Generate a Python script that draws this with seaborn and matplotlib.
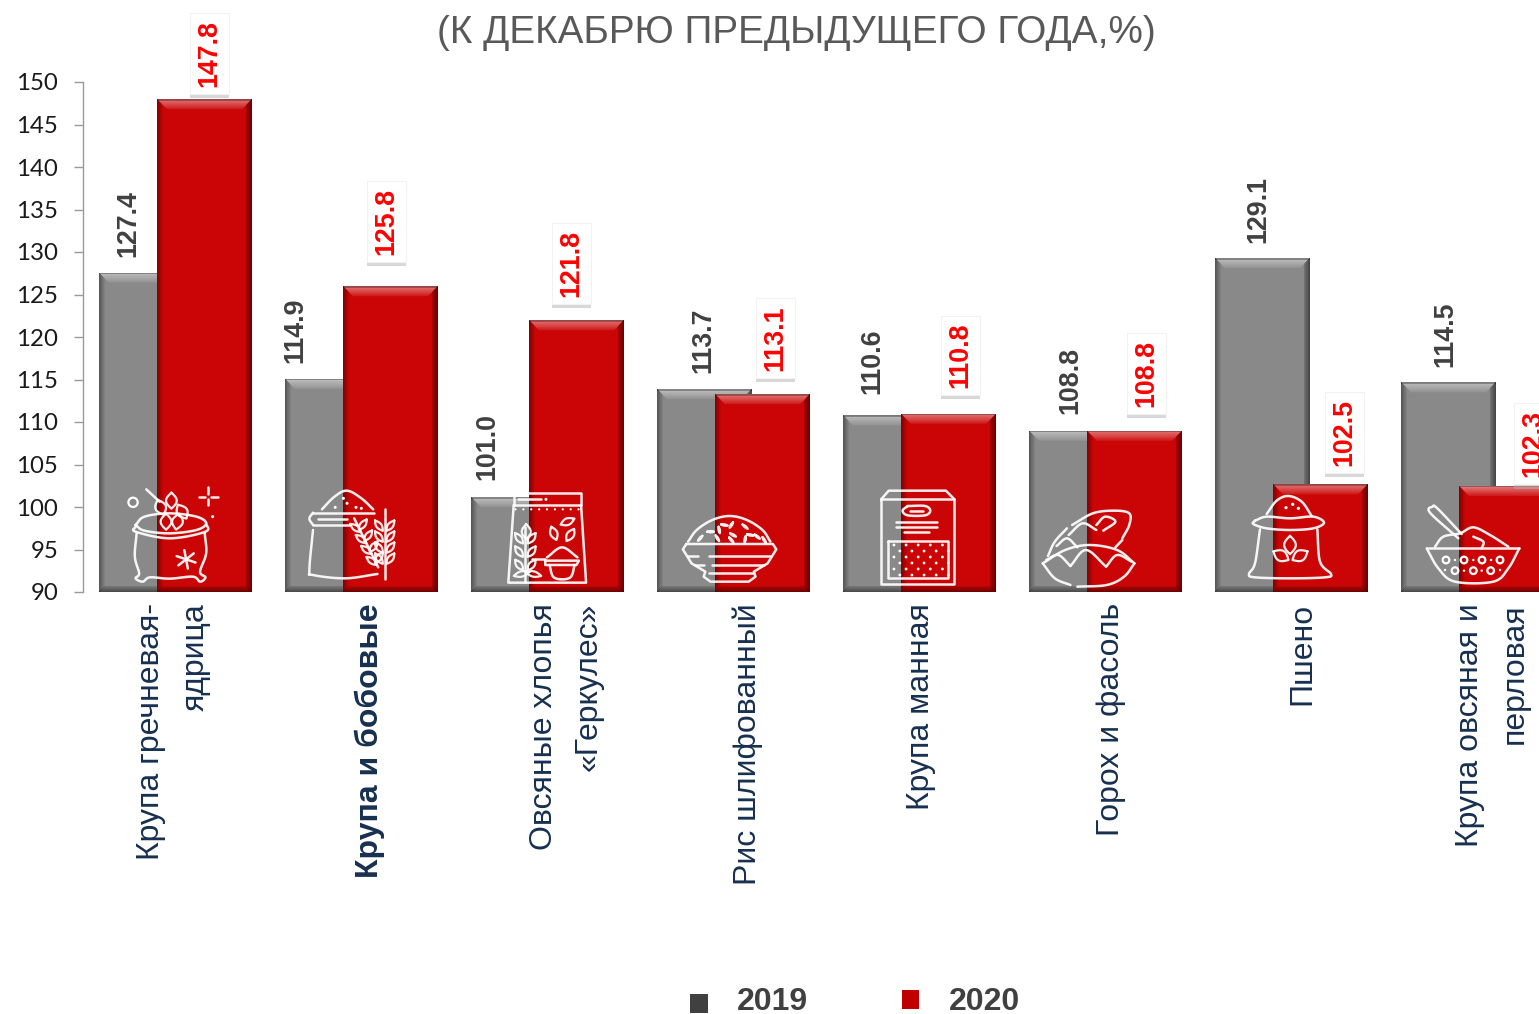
import numpy as np
import pandas as pd
import matplotlib
matplotlib.use("Agg")
import matplotlib.pyplot as plt
import seaborn as sns
from matplotlib.patches import Polygon, Rectangle, Patch, Circle
from matplotlib.lines import Line2D
from matplotlib.transforms import Affine2D, IdentityTransform
from matplotlib import patheffects as pe

# ---------- data ----------
categories = ["Крупа гречневая-\nядрица", "Крупа и бобовые", "Овсяные хлопья\n«Геркулес»",
              "Рис шлифованный", "Крупа манная", "Горох и фасоль", "Пшено",
              "Крупа овсяная и\nперловая"]
years = ["2019", "2020"]
values_2019 = [127.4, 114.9, 101.0, 113.7, 110.6, 108.8, 129.1, 114.5]
values_2020 = [147.8, 125.8, 121.8, 113.1, 110.8, 108.8, 102.5, 102.3]
y_ticks = list(range(90, 151, 5))
title_text = "(К ДЕКАБРЮ ПРЕДЫДУЩЕГО ГОДА,%)"

# ---------- layout ----------
W, H = 1539, 1014
GRAY, RED = "#898989", "#CB0505"
INK = "#17304F"
label_shift = [-2.5, 8.5, 18.5, 14.5, 1.5, 5.5, 10.5, 15]
gray_off = [(-18.5, 17), (-37.5, 17), (-31.5, 19), (-1.5, 18), (-18.5, 23), (-6.5, 18), (-4.5, 17), (-3.5, 17)]
red_off = [(5, 5), (-4, 24), (-5, 16), (13, 16), (12, 18), (12, 16), (24, 11), (27, 1)]

sns.set_theme(style="white")
plt.rcParams["font.family"] = ["Liberation Sans", "DejaVu Sans"]

fig = plt.figure(figsize=(W / 100, H / 100), dpi=100, facecolor="white")
ax = fig.add_axes([83 / W, (H - 592) / H, (W - 83) / W, (592 - 82) / H])

df = pd.DataFrame({
    "category": categories * 2,
    "year": [years[0]] * len(categories) + [years[1]] * len(categories),
    "value": values_2019 + values_2020,
})
sns.barplot(data=df, x="category", y="value", hue="year", hue_order=years,
            palette=[GRAY, RED], width=0.624, gap=-0.64, legend=False,
            saturation=1, linewidth=0, ax=ax)

ax.set_ylim(90, 150)
ax.set_xlim((83 - 175.5) / 186, (W - 175.5) / 186)
ax.set_yticks(y_ticks)
ax.set_xlabel("")
ax.set_ylabel("")
for s in ("top", "right", "bottom"):
    ax.spines[s].set_visible(False)
ax.spines["left"].set_color("#9A9A9A")
ax.spines["left"].set_linewidth(1.0)
ax.tick_params(axis="y", length=6.5, width=1, color="#9A9A9A", pad=11.5,
               left=True, labelsize=17.3, labelcolor="#1A1A1A")
for t in ax.get_yticklabels():
    t.set_fontfamily("Lato")
ax.tick_params(axis="x", length=0, pad=8)
ax.set_xticks(range(len(categories)))
ax.set_xticklabels(categories, rotation=90, fontsize=23, color=INK, va="top", ha="center",
                   multialignment="right", linespacing=1.65)
for i, t in enumerate(ax.get_xticklabels()):
    t.set_transform(t.get_transform() + Affine2D().translate(label_shift[i], 0))
    if categories[i] == "Крупа и бобовые":
        t.set_fontweight("bold")

# ---------- bevelled bars ----------
IDT = IdentityTransform()
ymin = ax.get_ylim()[0]


def bevel(bar, z):
    x = bar.get_x()
    w = bar.get_width()
    h = bar.get_height()
    (x0, y0), (x1, y1) = ax.transData.transform([(x, ymin), (x + w, h)])
    y1 += 1.5
    b = 10
    bar.set_zorder(z)
    ax.add_patch(Rectangle((x0, y1 - 2), x1 - x0, 2, fc=bar.get_facecolor(), ec="none", transform=IDT, zorder=z))
    for i in range(b):
        a = 0.42 * (1 - i / b) + 0.06
        ax.add_patch(Polygon([(x0 + i, y1 - i), (x1 - i, y1 - i), (x1 - i - 1, y1 - i - 1), (x0 + i + 1, y1 - i - 1)],
                             closed=True, fc="white", ec="none", alpha=a, transform=IDT, zorder=z + .01))
    for i in range(6):
        a = 0.36 * (1 - i / 6)
        ax.add_patch(Rectangle((x0 + i, y0 + i), 1, y1 - y0 - 2 * i, fc="black", ec="none", alpha=a,
                               transform=IDT, zorder=z + .02))
        ax.add_patch(Rectangle((x1 - i - 1, y0 + i), 1, y1 - y0 - 2 * i, fc="black", ec="none", alpha=a + .12,
                               transform=IDT, zorder=z + .02))
        ax.add_patch(Rectangle((x0 + i, y0 + i), x1 - x0 - 2 * i, 1, fc="black", ec="none", alpha=a + .08,
                               transform=IDT, zorder=z + .02))
    ax.add_patch(Rectangle((x0, y1 - 1.5), x1 - x0, 1.5, fc="black", ec="none", alpha=.3, transform=IDT, zorder=z + .03))


for bar in ax.containers[0]:
    bevel(bar, 1.2)
for bar in ax.containers[1]:
    bevel(bar, 1.5)

# ---------- value labels ----------
for i, bar in enumerate(ax.containers[0]):
    cx = bar.get_x() + bar.get_width() / 2
    dx, dy = gray_off[i]
    ax.annotate(f"{values_2019[i]:.1f}", (cx, bar.get_height()), xytext=(dx, dy), textcoords="offset pixels",
                rotation=90, ha="center", va="bottom", fontsize=19.3, fontweight="bold", color="#404040",
                annotation_clip=False, zorder=4)
for i, bar in enumerate(ax.containers[1]):
    cx = bar.get_x() + bar.get_width() / 2
    dx, dy = red_off[i]
    a = ax.annotate(f"{values_2020[i]:.1f}", (cx, bar.get_height()), xytext=(dx, dy + 9), textcoords="offset pixels",
                    rotation=90, ha="center", va="bottom", fontsize=19.3, fontweight="bold", color="#FF0000",
                    annotation_clip=False, zorder=4,
                    bbox=dict(boxstyle="square,pad=0.26", fc="white", ec="#F2F2F2", lw=0.8))
    a.get_bbox_patch().set_path_effects([
        pe.SimplePatchShadow(offset=(0, -3), shadow_rgbFace="#B0B0B0", alpha=.5), pe.Normal()])

# ---------- line icons (decoration, drawn in picture pixels) ----------
PIX = Affine2D().scale(1, -1).translate(0, H)
ICON_Z = 3


class Icon:
    def __init__(self, ox, oy, kx, ky):
        self.ox, self.oy, self.kx, self.ky = ox, oy, kx, ky

    def p(self, pts):
        a = np.asarray(pts, float)
        return np.c_[self.ox + a[:, 0] / self.kx, self.oy + a[:, 1] / self.ky]

    def line(self, pts, smooth=False, lw=1.8):
        q = self.p(pts)
        if smooth and len(q) > 2:
            e = np.r_[[2 * q[0] - q[1]], q, [2 * q[-1] - q[-2]]]
            out = []
            for j in range(1, len(e) - 2):
                for t in np.linspace(0, 1, 10, endpoint=False):
                    out.append(.5 * (2 * e[j] + (e[j + 1] - e[j - 1]) * t
                                     + (2 * e[j - 1] - 5 * e[j] + 4 * e[j + 1] - e[j + 2]) * t ** 2
                                     + (3 * e[j] - e[j - 1] - 3 * e[j + 1] + e[j + 2]) * t ** 3))
            out.append(q[-1])
            q = np.array(out)
        fig.add_artist(Line2D(q[:, 0], q[:, 1], color="white", lw=lw, alpha=.92, transform=PIX, zorder=ICON_Z,
                              solid_capstyle="round", solid_joinstyle="round"))

    def ring(self, c, r, lw=1.6):
        q = self.p([c])[0]
        fig.add_artist(Circle(q, r / self.kx, fc="none", ec="white", lw=lw, transform=PIX, zorder=ICON_Z))

    def dots(self, pts, r=1.5):
        for q in self.p(pts):
            fig.add_artist(Circle(q, r, fc="white", ec="none", transform=PIX, zorder=ICON_Z))

    def leaf(self, c, ln, wd, ang):
        t = np.linspace(0, 1, 21)
        u = (t - .5) * ln
        v = wd / 2 * np.sin(np.pi * t)
        ca, sa = np.cos(np.radians(ang)), np.sin(np.radians(ang))
        xs = np.r_[u, u[::-1]]
        ys = np.r_[v, -v[::-1]]
        self.line(np.c_[c[0] + xs * ca - ys * sa, c[1] + xs * sa + ys * ca], lw=1.6)


# 1: sack with grain
k = Icon(80, 470, 2.79, 3)
k.line([(155, 165), (180, 140), (250, 130), (325, 140), (352, 160), (325, 180), (250, 190), (180, 182), (155, 165)], True)
k.line([(155, 170), (155, 185), (250, 205), (350, 185), (352, 160)], True)
k.line([(158, 190), (153, 260), (165, 310), (155, 325), (175, 335), (195, 322), (250, 326), (315, 320), (335, 335), (350, 322), (335, 305), (352, 250), (348, 190)], True)
for c, a in [((225, 112), 70), ((255, 92), 90), ((285, 125), 60), ((240, 155), 90), ((272, 155), 100)]:
    k.leaf(c, 48, 30, a)
k.line([(185, 58), (222, 95)])
for a in (20, 80, 140):
    d = 28 * np.array([np.cos(np.radians(a)), np.sin(np.radians(a))])
    k.line([(296 - d[0], 268 - d[1]), (296 + d[0], 268 + d[1])])
k.ring((148, 97), 13)
k.line([(358, 52), (358, 72)])
k.line([(358, 88), (358, 106)])
k.line([(332, 80), (350, 80)])
k.line([(366, 80), (384, 80)])
k.dots([(370, 140)])

# 2: sack with wheat
k = Icon(80, 470, 2.79, 3)
k.line([(675, 118), (710, 80), (745, 62), (785, 85), (818, 118)], True)
k.line([(650, 128), (820, 128)])
k.line([(650, 165), (750, 165)])
k.line([(650, 128), (640, 146), (650, 165)], True)
k.line([(665, 147), (745, 147)])
k.dots([(712, 112), (745, 100), (770, 112), (735, 85), (785, 115)])
k.line([(650, 180), (640, 300), (650, 315), (740, 325), (830, 312)], True)
k.line([(765, 145), (832, 292)])
for s in (0, 1, 2, 3):
    y = 170 + s * 33
    x = 775 + s * 15
    k.leaf((x - 6, y + 4), 38, 15, 40)
    k.leaf((x + 14, y - 6), 38, 15, 125)
k.line([(850, 118), (850, 328)])
for s in (0, 1, 2, 3):
    y = 155 + s * 33
    k.leaf((834, y + 12), 38, 15, 55)
    k.leaf((866, y + 12), 38, 15, 125)

# 3: bag of oats
k = Icon(80, 470, 2.79, 3)
k.line([(1212, 105), (1212, 70), (1398, 70), (1398, 105), (1212, 105)])
k.line([(1222, 88), (1285, 88)])
k.dots([(1300, 88)])
k.dots([(x, 118) for x in range(1215, 1400, 22)], 1.1)
k.line([(1210, 105), (1195, 338), (1412, 338), (1398, 105)])
k.line([(1242, 170), (1242, 335)])
for y in (205, 245, 285):
    k.leaf((1225, y), 38, 16, 55)
    k.leaf((1260, y), 38, 16, 125)
k.leaf((1245, 185), 45, 25, 90)
k.leaf((1232, 312), 45, 16, 165)
k.leaf((1265, 312), 45, 16, 15)
k.line([(1303, 262), (1345, 232), (1388, 262)], True)
k.line([(1298, 272), (1392, 272), (1385, 285), (1298, 285), (1298, 272)])
k.line([(1310, 285), (1320, 320), (1345, 328), (1370, 320), (1380, 285)], True)
k.line([(1262, 268), (1298, 268)])
k.leaf((1360, 155), 42, 20, 155)
k.leaf((1322, 190), 42, 20, 70)
k.leaf((1368, 195), 42, 20, 120)

# 4: bowl of rice
k = Icon(650, 470, 2.89, 3)
k.line([(105, 222), (355, 222), (365, 238), (340, 280), (300, 305), (305, 320), (285, 335), (175, 335), (155, 320), (160, 305), (120, 280), (95, 238), (105, 222)])
k.line([(110, 258), (140, 258)])
k.line([(170, 258), (350, 258)])
k.line([(130, 285), (155, 285)])
k.line([(180, 285), (330, 285)])
k.line([(170, 308), (300, 308)])
k.line([(110, 215), (135, 180), (180, 150), (230, 138), (280, 150), (325, 180), (348, 215)], True)
for c, a in [((200, 180), 80), ((235, 165), 120), ((215, 165), 10), ((275, 170), 40), ((240, 195), 30), ((290, 195), 10),
             ((175, 185), 0), ((145, 205), 130), ((195, 205), 60), ((235, 210), 50), ((275, 208), 100), ((310, 200), 40), ((330, 210), 60)]:
    k.leaf(c, 20, 4, a)

# 5: box of semolina
k = Icon(650, 470, 2.89, 3)
k.line([(668, 88), (880, 88), (880, 342), (668, 342), (668, 88)])
k.line([(668, 88), (690, 62), (855, 62), (880, 88)])
k.line([(745, 108), (795, 108), (810, 122), (795, 136), (745, 136), (730, 122), (745, 108)], True)
k.line([(750, 122), (790, 122)])
k.line([(710, 155), (830, 155)])
k.line([(710, 170), (830, 170)])
k.line([(735, 185), (805, 185)])
k.line([(688, 212), (862, 212), (862, 325), (688, 325), (688, 212)])
k.dots([(x + (17 if j % 2 else 0), y) for j, y in enumerate(range(225, 320, 18)) for x in range(705, 850, 35)], 1.4)

# 6: beans
k = Icon(650, 470, 2.89, 3)
k.line([(1135, 280), (1170, 325), (1215, 345)], True)
k.line([(1235, 350), (1320, 345), (1370, 320), (1400, 280)], True)
k.line([(1135, 280), (1200, 240), (1270, 225), (1350, 240), (1400, 280)], True)
k.line([(1145, 270), (1180, 255), (1215, 288)], True)
k.line([(1215, 288), (1260, 240), (1318, 290)], True)
k.line([(1318, 290), (1350, 255), (1392, 275)], True)
k.line([(1150, 258), (1170, 215), (1205, 175)], True)
k.line([(1220, 165), (1280, 130), (1340, 122), (1385, 130), (1385, 165), (1365, 205)], True)
k.line([(1365, 210), (1345, 232)])
k.line([(1175, 228), (1205, 205), (1235, 232)], True)
k.line([(1210, 195), (1250, 160), (1290, 180)], True)
k.line([(1290, 165), (1315, 140), (1345, 155), (1310, 182)], True)

# 7: sack of millet
k = Icon(1200, 370, 3, 3)
k.line([(200, 432), (230, 392), (265, 378), (305, 395), (335, 438)], True)
k.line([(165, 452), (200, 440), (270, 445), (340, 440), (372, 458), (340, 475), (270, 480), (200, 475), (160, 462), (165, 452)], True)
k.line([(180, 478), (165, 580), (147, 612), (165, 622), (270, 625), (375, 622), (393, 612), (360, 575), (352, 478)], True)
k.dots([(258, 413), (278, 403), (295, 415)], 1.6)
k.leaf((270, 525), 55, 35, 90)
k.leaf((243, 557), 52, 32, 30)
k.leaf((300, 557), 52, 32, 150)

# 8: bowl of porridge
k = Icon(1200, 370, 3, 3)
k.line([(680, 535), (715, 595), (765, 635), (880, 635), (925, 595), (958, 535)], True)
k.line([(680, 535), (958, 535)])
k.line([(705, 530), (730, 500), (780, 490), (820, 472), (870, 495), (925, 530)], True)
k.line([(775, 505), (690, 428), (698, 410), (712, 415), (785, 492)], True)
k.line([(820, 500), (850, 515), (845, 535)], True)
for c in [(738, 570), (792, 570), (846, 570), (900, 570), (765, 602), (820, 602), (872, 602)]:
    k.ring(c, 10)
k.dots([(765, 570), (820, 570), (873, 570), (792, 602), (845, 602), (735, 600), (900, 600)], 1.2)

# ---------- title & legend ----------
fig.text(796.5 / W, 1 - 33 / H, title_text, ha="center", va="center", fontsize=27.9, color="#595959")
handles = [Patch(fc="#404040", ec="none", label=years[0]), Patch(fc="#C00000", ec="none", label=years[1])]
leg = fig.legend(handles=handles, ncols=2, loc="center", bbox_to_anchor=(855 / W, 1 - 1002.5 / H),
                 frameon=False, prop={"size": 23, "weight": "bold"},
                 handlelength=0.56, handleheight=0.56, handletextpad=0.92, columnspacing=2.92,
                 borderpad=0, borderaxespad=0)
for t in leg.get_texts():
    t.set_color("#404040")
leg.legend_handles[0].set_y(-2.0)
leg.legend_handles[1].set_y(1.0)

fig.savefig("out.png", dpi=100, facecolor="white")
